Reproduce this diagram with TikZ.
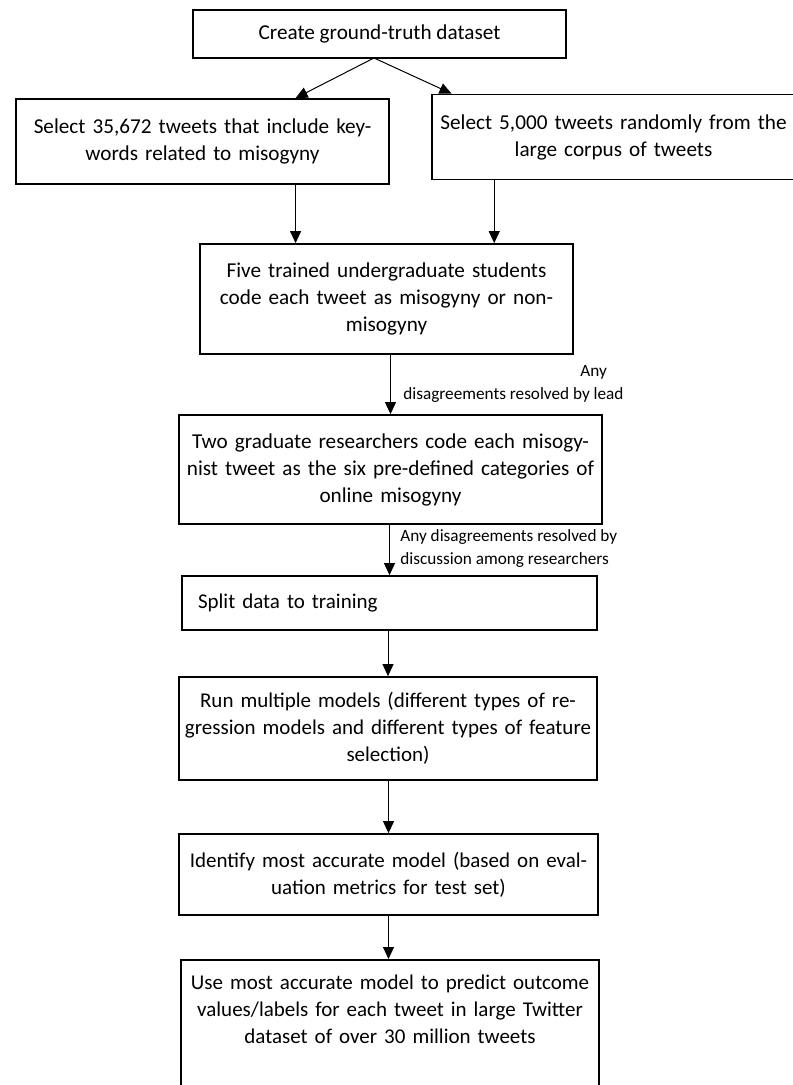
\documentclass[tikz,border=0pt]{standalone}
\usepackage{fontspec}
\setmainfont{Carlito}
\usetikzlibrary{arrows.meta}
\tikzset{
  box/.style={draw, line width=0.9pt, align=center, inner xsep=2pt, inner ysep=0pt,
    font=\fontsize{10.6}{13.5}\selectfont},
  lowbox/.style={box, font=\fontsize{10.5}{13.5}\selectfont, inner xsep=0.5pt},
  arr/.style={line width=0.5pt, -{Triangle[length=6pt,width=5.5pt]}},
  lbl/.style={font=\fontsize{8.6}{11.5}\selectfont, inner sep=0pt, align=left}
}
\begin{document}
\begin{tikzpicture}[x=0.5pt,y=-0.5pt]
\useasboundingbox (0,0) rectangle (792,1085);

% Drawing the boxes
\node[box, minimum width=186.5pt, minimum height=24pt] (create) at (379.5,34) {Create ground-truth dataset};
\node[box, minimum width=186.5pt, minimum height=42.5pt, text width=181pt] (keyw) at (202.5,141.5)
  {Select 35,672 tweets that include key-\\words related to misogyny};
\node[box, minimum width=181.5pt, minimum height=42.5pt, text width=180pt, inner xsep=0.5pt] (random) at (613.5,137)
  {Select 5,000 tweets randomly from the\\large corpus of tweets\\[2pt]};
\node[box, minimum width=186.5pt, minimum height=55pt, text width=181pt] (five) at (386.5,299)
  {Five trained undergraduate students\\code each tweet as misogyny or non-\\misogyny};
\node[box, minimum width=211.5pt, minimum height=54.5pt, text width=206pt] (two) at (390.5,469.5)
  {Two graduate researchers code each misogy-\\nist tweet as the six pre-defined categories of\\online misogyny};
\node[lowbox, minimum width=207.5pt, minimum height=27pt, text width=191.5pt, inner xsep=8pt, align=left] (split) at (389.5,603)
  {Split data to training};
\node[lowbox, minimum width=209pt, minimum height=51.5pt, text width=207.5pt] (run) at (388,728.5)
  {Run multiple models (different types of re-\\gression models and different types of feature\\selection)};
\node[lowbox, minimum width=209.5pt, minimum height=40.5pt, text width=207.5pt] (ident) at (388.5,874.5)
  {Identify most accurate model (based on eval-\\uation metrics for test set)};
\node[lowbox, minimum width=209pt, minimum height=76pt, text width=207.5pt, anchor=north] (use) at (390,959)
  {Use most accurate model to predict outcome\\values/labels for each tweet in large Twitter\\dataset of over 30 million tweets\\\mbox{}\\\mbox{}};

% Drawing the connectors
\coordinate (fork) at (374,58);
\draw[arr] (fork) -- (keyw.25);
\draw[arr] (fork) -- (random.165);
\draw[arr] (keyw.-25) -- (keyw.-25 |- five.north);
\draw[arr] (random.200) -- (random.200 |- five.north);
\draw[arr] (two.north |- five.south) -- (two.north);
\draw[arr] (split.north |- two.south) -- (split.north);
\draw[arr] (run.north |- split.south) -- (run.north);
\draw[arr] (ident.north |- run.south) -- (ident.north);
\draw[arr] (ident.south) -- (ident.south |- use.north);

% Marking the notes
\node[lbl, anchor=west] (lead) at (403,384) {\hspace*{88.5pt}Any\\disagreements resolved by lead};
\node[lbl, anchor=west] (disc) at (400,549) {Any disagreements resolved by\\discussion among researchers};
\end{tikzpicture}
\end{document}
